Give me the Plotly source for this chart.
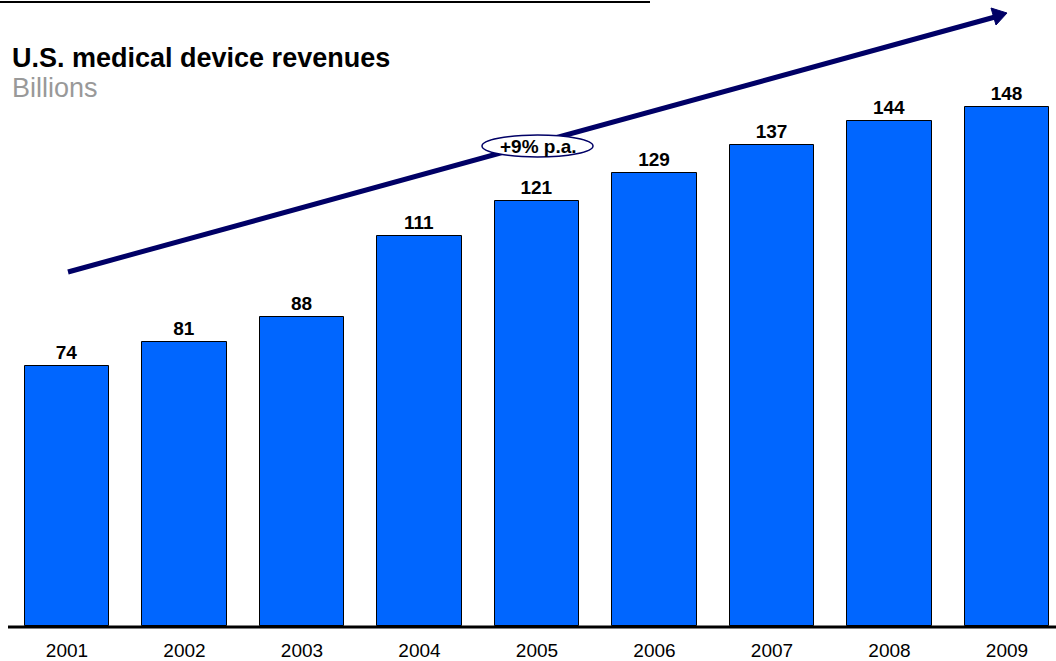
import plotly.graph_objects as go

years = ["2001", "2002", "2003", "2004", "2005", "2006", "2007", "2008", "2009"]
revenues = [74, 81, 88, 111, 121, 129, 137, 144, 148]

W, H = 1056, 661
PLOT_H = 626  # plot area height in px (baseline at bottom)
FONT = "Liberation Sans, Arial, sans-serif"

def px(x):
    return x / W

def py(y):
    return 1 - y / PLOT_H

idx = list(range(len(years)))

fig = go.Figure()
fig.add_trace(go.Bar(
    x=idx, y=revenues, width=0.715,
    marker=dict(color="#0066FF", line=dict(color="#000000", width=1)),
    text=[f"<b>{v}</b>" for v in revenues], textposition="outside",
    textfont=dict(family=FONT, size=19, color="#000000"),
    cliponaxis=False, hoverinfo="skip",
))

shapes = [
    # rule at top
    dict(type="line", xref="paper", yref="paper", x0=0, x1=px(650), y0=py(2), y1=py(2),
         line=dict(color="#000000", width=2)),
    # baseline
    dict(type="line", xref="paper", yref="paper", x0=px(8), x1=1, y0=py(627), y1=py(627),
         line=dict(color="#000000", width=3)),
    # growth arrow shaft
    dict(type="line", xref="paper", yref="paper", x0=px(68), y0=py(272), x1=px(995), y1=py(17),
         line=dict(color="#000066", width=5)),
    # arrow head
    dict(type="path", xref="paper", yref="paper",
         path=f"M {px(1007)},{py(13)} L {px(996)},{py(25)} L {px(991)},{py(8)} Z",
         fillcolor="#000066", line=dict(color="#000066", width=1)),
    # label ellipse
    dict(type="circle", xref="paper", yref="paper", x0=px(482), x1=px(593), y0=py(135), y1=py(157),
         fillcolor="#FFFFFF", line=dict(color="#000066", width=1.5)),
]

annotations = [
    dict(text="<b>+9% p.a.</b>", xref="paper", yref="paper", x=px(538), y=py(146),
         showarrow=False, xanchor="center", yanchor="middle",
         font=dict(family=FONT, size=19, color="#000000")),
    dict(text="<b>U.S. medical device revenues</b>", xref="paper", yref="paper",
         x=px(10), y=py(58), showarrow=False, xanchor="left", yanchor="middle",
         font=dict(family=FONT, size=27, color="#000000")),
    dict(text="Billions", xref="paper", yref="paper",
         x=px(10), y=py(88), showarrow=False, xanchor="left", yanchor="middle",
         font=dict(family=FONT, size=27, color="#999999")),
]

pitch = 117.5
c0 = 67
fig.update_layout(
    width=W, height=H,
    margin=dict(l=0, r=0, t=0, b=H - PLOT_H, pad=0, autoexpand=False),
    plot_bgcolor="#FFFFFF", paper_bgcolor="#FFFFFF",
    showlegend=False,
    shapes=shapes, annotations=annotations,
    xaxis=dict(range=[-c0 / pitch, (W - c0) / pitch], tickvals=idx, ticktext=years,
               showgrid=False, zeroline=False, showline=False, ticks="",
               ticklabelstandoff=11, automargin=False,
               tickfont=dict(family=FONT, size=19, color="#000000"),
               fixedrange=True),
    yaxis=dict(range=[0, PLOT_H / 3.51], visible=False, showgrid=False, zeroline=False,
               automargin=False, fixedrange=True),
    bargap=0,
)

fig.write_html("out.html", config=dict(displayModeBar=False))
